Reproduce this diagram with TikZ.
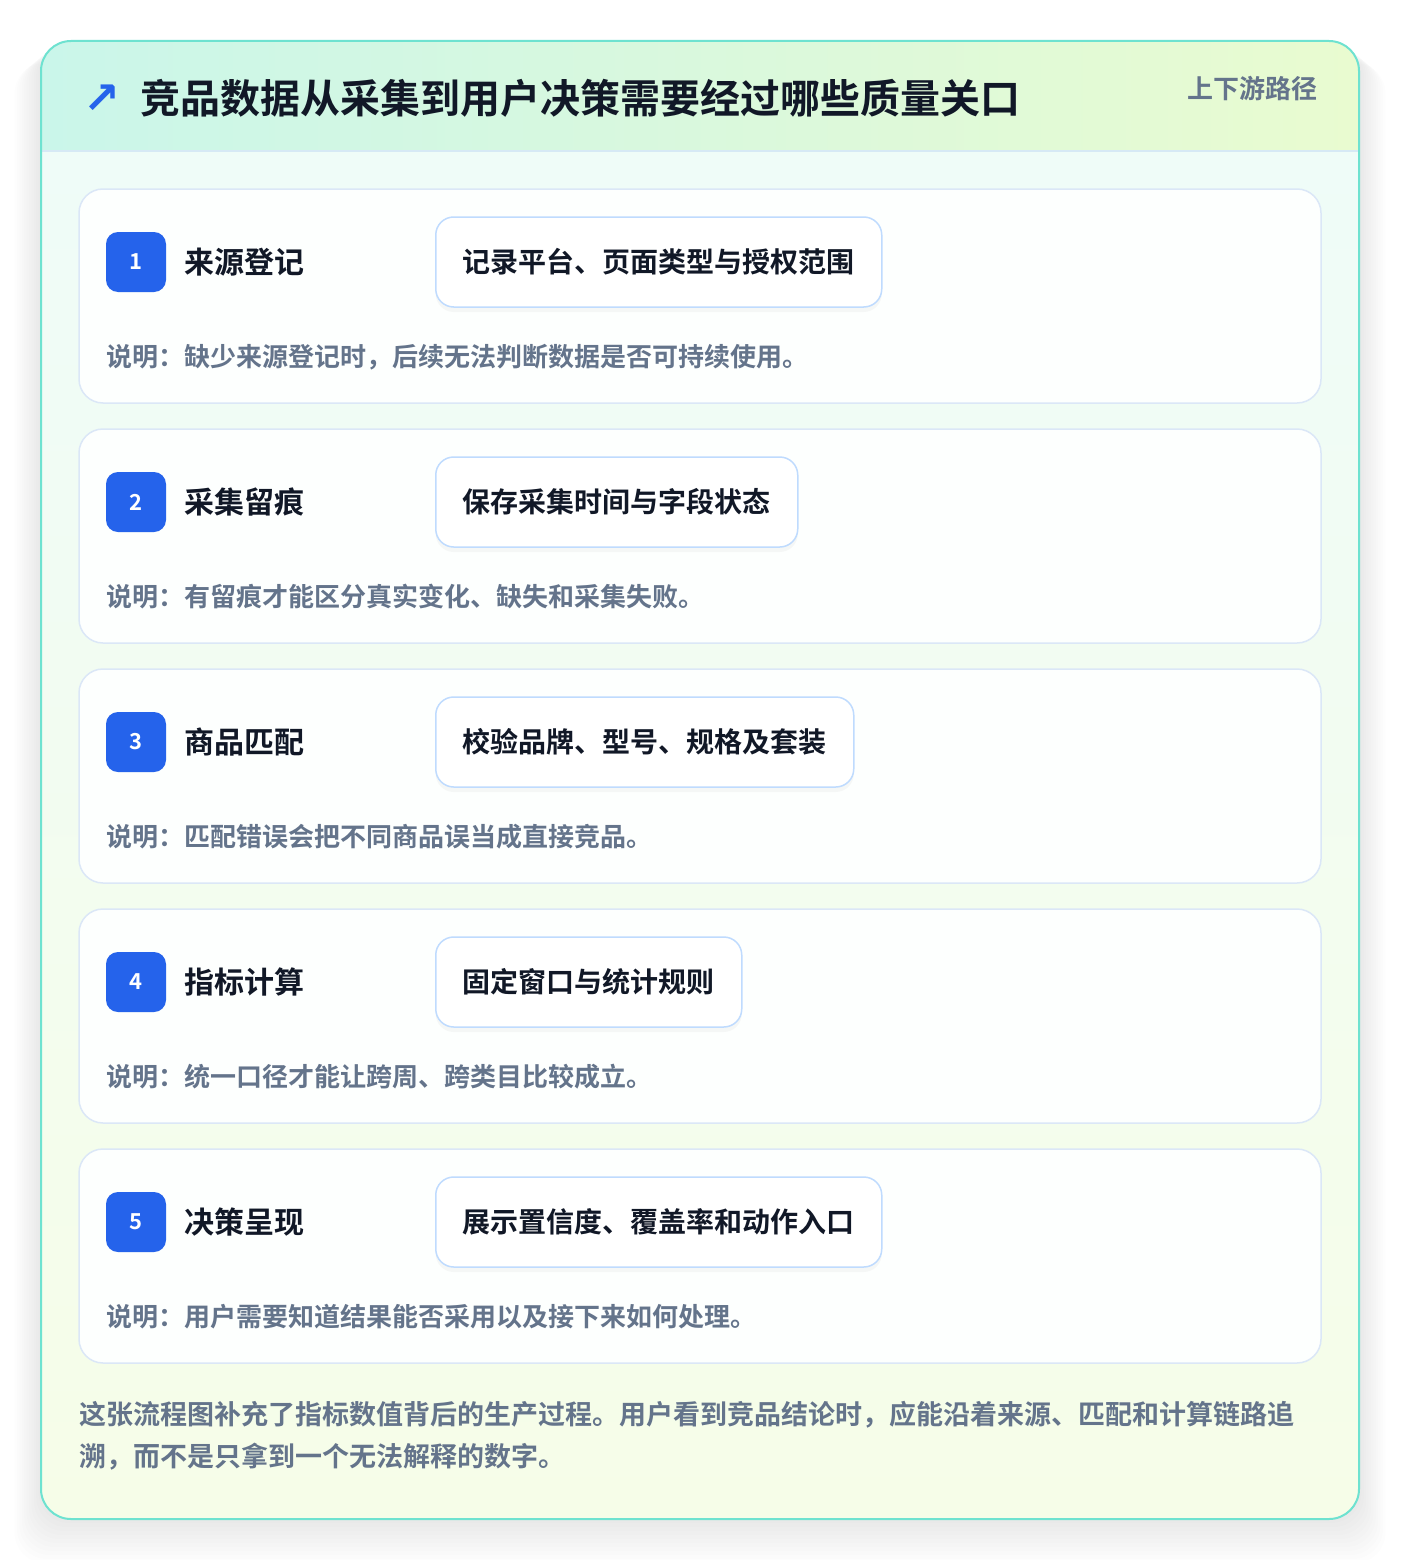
\documentclass[tikz,border=0pt]{standalone}
\usepackage{fontspec}
\setmainfont{Noto Sans CJK SC}[BoldFont={* Bold}]
\newfontfamily\symfont{DejaVu Sans}
\usepackage{xcolor}
\usepackage{tikz}
\usetikzlibrary{positioning,shadows}

\definecolor{inkdark}{RGB}{17,24,39}
\definecolor{inkslate}{RGB}{100,116,139}
\definecolor{badgeblue}{RGB}{37,99,235}
\definecolor{frameteal}{RGB}{110,226,208}
\definecolor{cardline}{RGB}{219,231,247}
\definecolor{pillline}{RGB}{191,219,254}
\definecolor{sepline}{RGB}{214,233,245}
\definecolor{headleft}{RGB}{202,246,234}
\definecolor{headright}{RGB}{233,251,208}
\definecolor{bodytop}{RGB}{239,252,248}
\definecolor{bodybot}{RGB}{246,253,232}
\definecolor{cardfill}{RGB}{253,255,254}

\begin{document}
\begin{tikzpicture}[x=1pt, y=-1pt,
		frame/.style={
			draw=frameteal,
			line width=2pt,
			rounded corners=30pt
			},
		card/.style={
			draw=cardline,
			line width=1.5pt,
			fill=cardfill,
			rounded corners=24pt,
			minimum width=1242pt,
			minimum height=214pt,
			inner sep=0pt
			},
		badge/.style={
			fill=badgeblue,
			rounded corners=12pt,
			minimum size=60pt,
			inner sep=0pt,
			text=white,
			font=\fontsize{22}{26}\selectfont\bfseries
			},
		stepname/.style={
			inner sep=0pt,
			text=inkdark,
			font=\fontsize{30}{36}\selectfont\bfseries
			},
		pill/.style={
			draw=pillline,
			line width=1.5pt,
			fill=white,
			rounded corners=18pt,
			minimum height=90pt,
			inner xsep=27pt,
			text=inkdark,
			font=\fontsize{28}{34}\selectfont\bfseries,
			drop shadow={shadow xshift=0pt, shadow yshift=-5pt, opacity=0.06}
			},
		note/.style={
			inner sep=0pt,
			text=inkslate,
			font=\fontsize{26}{32}\selectfont\bfseries
			},
		foot/.style={
			inner sep=0pt,
			text=inkslate,
			font=\fontsize{27}{42}\selectfont\bfseries
			}
		]

		\useasboundingbox[fill=white] (0,0) rectangle (1400,1560);

		% soft shadow under the frame
		\foreach \s in {4,8,...,44}
			\fill[black, opacity=0.009, rounded corners=30pt] (41-\s*0.6,41+\s*0.5) rectangle (1359+\s*0.6,1519+\s);

		\begin{scope}
			\clip[rounded corners=30pt] (41,41) rectangle (1359,1519);
			\shade[top color=bodytop, bottom color=bodybot] (41,151) rectangle (1359,1519);
			\shade[left color=headleft, right color=headright] (41,41) rectangle (1359,151);
		\end{scope}
		\draw[sepline, line width=1.5pt] (42,151) -- (1358,151);
		\draw[frame] (41,41) rectangle (1359,1519);

		% header
		\node[inner sep=0pt, text=badgeblue, font=\fontsize{44}{48}\selectfont\symfont\bfseries] (icon) at (102,99) {↗};
		\node[anchor=west, inner sep=0pt, text=inkdark, font=\fontsize{40}{48}\selectfont\bfseries] (title) at (140,98) {竞品数据从采集到用户决策需要经过哪些质量关口};
		\node[anchor=east, inner sep=0pt, text=inkslate, font=\fontsize{26}{32}\selectfont\bfseries] (route) at (1318,89) {上下游路径};

		\begin{scope}
			\node[card] (card1) at (700,296) {};
			\node[badge] (badge1) at (136,262) {1};
			\node[stepname, anchor=west, right=18pt of badge1] (name1) {来源登记};
			\node[pill, anchor=west] (pill1) at (435,262) {记录平台、页面类型与授权范围};
			\node[note, anchor=west] (note1) at (106,357) {说明：缺少来源登记时，后续无法判断数据是否可持续使用。};
		\end{scope}

		\begin{scope}[yshift=-240pt]
			\node[card] (card2) at (700,296) {};
			\node[badge] (badge2) at (136,262) {2};
			\node[stepname, anchor=west, right=18pt of badge2] (name2) {采集留痕};
			\node[pill, anchor=west] (pill2) at (435,262) {保存采集时间与字段状态};
			\node[note, anchor=west] (note2) at (106,357) {说明：有留痕才能区分真实变化、缺失和采集失败。};
		\end{scope}

		\begin{scope}[yshift=-480pt]
			\node[card] (card3) at (700,296) {};
			\node[badge] (badge3) at (136,262) {3};
			\node[stepname, anchor=west, right=18pt of badge3] (name3) {商品匹配};
			\node[pill, anchor=west] (pill3) at (435,262) {校验品牌、型号、规格及套装};
			\node[note, anchor=west] (note3) at (106,357) {说明：匹配错误会把不同商品误当成直接竞品。};
		\end{scope}

		\begin{scope}[yshift=-720pt]
			\node[card] (card4) at (700,296) {};
			\node[badge] (badge4) at (136,262) {4};
			\node[stepname, anchor=west, right=18pt of badge4] (name4) {指标计算};
			\node[pill, anchor=west] (pill4) at (435,262) {固定窗口与统计规则};
			\node[note, anchor=west] (note4) at (106,357) {说明：统一口径才能让跨周、跨类目比较成立。};
		\end{scope}

		\begin{scope}[yshift=-960pt]
			\node[card] (card5) at (700,296) {};
			\node[badge] (badge5) at (136,262) {5};
			\node[stepname, anchor=west, right=18pt of badge5] (name5) {决策呈现};
			\node[pill, anchor=west] (pill5) at (435,262) {展示置信度、覆盖率和动作入口};
			\node[note, anchor=west] (note5) at (106,357) {说明：用户需要知道结果能否采用以及接下来如何处理。};
		\end{scope}

		% closing remark
		\node[foot, anchor=west] (foot1) at (79,1415) {这张流程图补充了指标数值背后的生产过程。用户看到竞品结论时，应能沿着来源、匹配和计算链路追};
		\node[foot, anchor=west] (foot2) at (79,1457) {溯，而不是只拿到一个无法解释的数字。};
	\end{tikzpicture}
\end{document}
